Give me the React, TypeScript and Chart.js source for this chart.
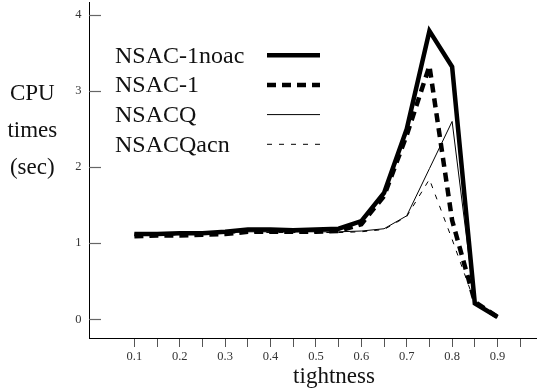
import React, { useEffect, useRef } from "react";
import { Chart, registerables } from "chart.js";

Chart.register(...registerables);

const tightness = [0.1, 0.15, 0.2, 0.25, 0.3, 0.35, 0.4, 0.45, 0.5, 0.55, 0.6, 0.65, 0.7, 0.75, 0.8, 0.85, 0.9];
const nsac1noac = [1.12, 1.12, 1.13, 1.13, 1.15, 1.18, 1.18, 1.17, 1.18, 1.19, 1.29, 1.66, 2.5, 3.79, 3.32, 0.21, 0.03];
const nsac1 = [1.09, 1.1, 1.1, 1.11, 1.12, 1.15, 1.15, 1.15, 1.15, 1.16, 1.25, 1.62, 2.42, 3.33, 1.3, 0.23, 0.03];
const nsacq = [1.13, 1.13, 1.13, 1.13, 1.14, 1.15, 1.15, 1.15, 1.15, 1.15, 1.16, 1.19, 1.36, 1.98, 2.6, 0.2, 0.03];
const nsacqacn = [1.1, 1.11, 1.11, 1.12, 1.13, 1.14, 1.14, 1.14, 1.14, 1.14, 1.15, 1.18, 1.35, 1.84, 1.05, 0.22, 0.03];

const seriesNames = ["NSAC-1noac", "NSAC-1", "NSACQ", "NSACQacn"];
const yTickValues = [0, 1, 2, 3, 4];
const xTickValues = [0.1, 0.15, 0.2, 0.25, 0.3, 0.35, 0.4, 0.45, 0.5, 0.55, 0.6, 0.65, 0.7, 0.75, 0.8, 0.85, 0.9, 0.95];
const xTickLabels = ["0.1", "", "0.2", "", "0.3", "", "0.4", "", "0.5", "", "0.6", "", "0.7", "", "0.8", "", "0.9", ""];
const yTitleLines = ["CPU", "times", "(sec)"];
const xTitle = "tightness";

const SERIF = "'Liberation Serif', 'Times New Roman', serif";

const styles = [
  { borderWidth: 4.5, borderDash: [] as number[] },
  { borderWidth: 4.5, borderDash: [9, 6] },
  { borderWidth: 1, borderDash: [] as number[] },
  { borderWidth: 1, borderDash: [5, 7] },
];

export default function App() {
  const ref = useRef<HTMLCanvasElement | null>(null);

  useEffect(() => {
    if (!ref.current) return;
    const all = [nsac1noac, nsac1, nsacq, nsacqacn];

    const overlay = {
      id: "overlay",
      afterDraw(chart: any) {
        const ctx = chart.ctx as CanvasRenderingContext2D;
        const ys = chart.scales.y;
        const area = chart.chartArea;
        ctx.save();
        // inward y ticks
        ctx.strokeStyle = "#666";
        ctx.lineWidth = 1.2;
        ctx.setLineDash([]);
        for (const v of yTickValues) {
          const py = Math.round(ys.getPixelForValue(v)) + 0.5;
          ctx.beginPath();
          ctx.moveTo(area.left, py);
          ctx.lineTo(area.left + 12, py);
          ctx.stroke();
        }
        // legend
        ctx.fillStyle = "#111";
        ctx.font = `24px ${SERIF}`;
        ctx.textAlign = "left";
        ctx.textBaseline = "alphabetic";
        seriesNames.forEach((name, i) => {
          const base = 62.7 + i * 29.7;
          ctx.fillText(name, 115, base);
          const ly = base - 7.5;
          ctx.beginPath();
          ctx.strokeStyle = "#000";
          ctx.lineWidth = styles[i].borderWidth;
          ctx.setLineDash(styles[i].borderDash);
          ctx.lineCap = "butt";
          ctx.moveTo(267, ly);
          ctx.lineTo(320, ly);
          ctx.stroke();
          ctx.setLineDash([]);
        });
        // y title
        ctx.font = `23px ${SERIF}`;
        ctx.textAlign = "center";
        ctx.fillStyle = "#111";
        yTitleLines.forEach((t, i) => {
          ctx.fillText(t, 32.3, 100 + i * 37);
        });
        // x title
        ctx.fillText(xTitle, 334, 383);
        ctx.restore();
      },
    };

    const chart = new Chart(ref.current, {
      type: "line",
      data: {
        datasets: seriesNames.map((name, i) => ({
          label: name,
          data: tightness.map((x, j) => ({ x, y: all[i][j] })),
          borderColor: "#000",
          backgroundColor: "#000",
          borderWidth: styles[i].borderWidth,
          borderDash: styles[i].borderDash,
          pointRadius: 0,
          tension: 0,
          fill: false,
        })),
      },
      options: {
        animation: false,
        responsive: false,
        devicePixelRatio: 1,
        layout: { padding: { top: 2, left: 0, right: 0, bottom: 0 } },
        plugins: { legend: { display: false }, tooltip: { enabled: false } },
        scales: {
          x: {
            type: "linear",
            min: 0,
            max: 0.987,
            afterBuildTicks: (s: any) => {
              s.ticks = xTickValues.map((v) => ({ value: v }));
            },
            afterFit: (s: any) => {
              s.height = 53;
              s.paddingLeft = 0;
              s.paddingRight = 0;
            },
            ticks: {
              autoSkip: false,
              maxRotation: 0,
              padding: 2,
              color: "#333",
              font: { family: SERIF, size: 12.5 },
              callback: (_v: any, idx: number) => xTickLabels[idx],
            },
            grid: { drawOnChartArea: false, drawTicks: true, tickLength: 9, color: "#555", lineWidth: 1 },
            border: { display: true, color: "#000", width: 1 },
          },
          y: {
            type: "linear",
            min: -0.246,
            max: 4.17,
            afterBuildTicks: (s: any) => {
              s.ticks = yTickValues.map((v) => ({ value: v }));
            },
            afterFit: (s: any) => {
              s.width = 89;
              s.paddingTop = 0;
              s.paddingBottom = 0;
            },
            ticks: {
              padding: 7.5,
              color: "#333",
              font: { family: SERIF, size: 12.5 },
              callback: (v: any) => String(v),
            },
            grid: { drawOnChartArea: false, drawTicks: false },
            border: { display: true, color: "#000", width: 1 },
          },
        },
      },
      plugins: [overlay],
    } as any);

    return () => chart.destroy();
  }, []);

  return (
    <div style={{ position: "fixed", left: 0, top: 0, width: 537, height: 391, background: "#fff" }}>
      <canvas ref={ref} width={537} height={391} style={{ display: "block" }} />
    </div>
  );
}
